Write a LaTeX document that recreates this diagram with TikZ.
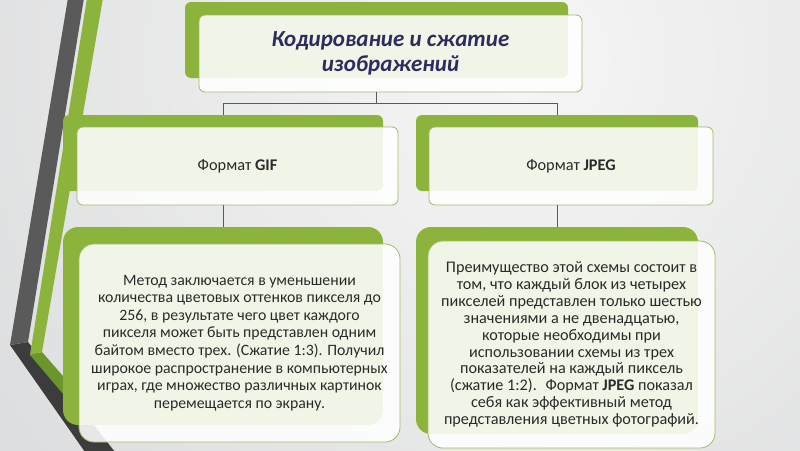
\documentclass[tikz,border=0pt]{standalone}
\usepackage{fontspec}
\setmainfont{Carlito}
\definecolor{bgbase}{HTML}{C4C6C8}
\definecolor{bgtop}{HTML}{F6F6F6}
\definecolor{boxgreen}{HTML}{8CB43C}
\definecolor{edgegreen}{HTML}{9DBE63}
\definecolor{darkbar}{HTML}{5A5A5A}
\definecolor{darkbarlow}{HTML}{3C3C3C}
\definecolor{greenlow}{HTML}{6A962C}
\definecolor{titlecol}{HTML}{2C2C5E}
\definecolor{textcol}{HTML}{2A2A2A}
\definecolor{linecol}{HTML}{5A5A5A}
\begin{document}
\begin{tikzpicture}[x=1pt,y=-1pt,
  grn/.style={fill=boxgreen, draw=none, rounded corners=#1, inner sep=0pt},
  wbox/.style={fill=white, fill opacity=0.88, text opacity=1, draw=edgegreen, line width=0.8pt,
               rounded corners=#1, inner sep=0pt, align=center, text=textcol},
  conn/.style={draw=linecol, line width=0.7pt},
  headtext/.style={font=\fontsize{16.3}{19}\selectfont}]
\useasboundingbox (0,0) rectangle (800,450);
% background
\fill[bgbase] (0,0) rectangle (800,450);
\begin{scope}
  \clip (0,0) rectangle (800,450);
  \shade[inner color=bgtop, outer color=bgbase] (520,60) circle[radius=1250pt];
\end{scope}
% left decoration
\fill[darkbarlow] (10,345) -- (85,452) -- (115,452) -- (28,342) -- cycle;
\fill[darkbar] (68,-2) -- (84,-2) -- (28,342) -- (10,345) -- cycle;
\fill[greenlow] (30,355) -- (42,352) -- (70,384) -- (70,402) -- cycle;
\fill[boxgreen] (87,-2) -- (103,-2) -- (42,352) -- (30,355) -- cycle;

% top box
\node[grn=6pt, minimum width=383pt, minimum height=76pt] (topg) at (376.5,40) {};
\node[wbox=6pt, minimum width=383pt, minimum height=77pt, text=titlecol,
      font=\fontsize{23}{25}\selectfont\bfseries\itshape] (top) at (390.5,53.5)
      {Кодирование и сжатие\\изображений};
% second level
\node[grn=6pt, minimum width=320pt, minimum height=76pt] (gifg) at (223,153) {};
\node[wbox=6pt, minimum width=321pt, minimum height=78pt, headtext] (gif) at (237.5,166)
      {Формат \textbf{GIF}};
\node[grn=6pt, minimum width=282pt, minimum height=76pt] (jpgg) at (557,153) {};
\node[wbox=6pt, minimum width=284pt, minimum height=78pt, headtext] (jpg) at (571,166)
      {Формат \textbf{JPEG}};
% third level
\node[grn=15pt, minimum width=320pt, minimum height=198pt] (gbodyg) at (223,326) {};
\node[wbox=15pt, minimum width=321pt, minimum height=198pt,
      font=\fontsize{15.8}{17.6}\selectfont] (gbody) at (239.5,343)
      {\addfontfeatures{Numbers=OldStyle}%
       Метод заключается в уменьшении\\
       количества цветовых оттенков пикселя до\\
       256, в результате чего цвет каждого\\
       пикселя может быть представлен одним\\
       байтом вместо трех. (Сжатие 1:3). Получил\\
       широкое распространение в компьютерных\\
       играх, где множество различных картинок\\
       перемещается по экрану.};
\node[grn=15pt, minimum width=282pt, minimum height=207pt] (jbodyg) at (557,330.5) {};
\node[wbox=15pt, minimum width=287pt, minimum height=207pt,
      font=\fontsize{16.2}{16.9}\selectfont] (jbody) at (571.5,344.5)
      {Преимущество этой схемы состоит в\\
       том, что каждый блок из четырех\\
       пикселей представлен только шестью\\
       значениями а не двенадцатью,\\
       которые необходимы при\\
       использовании схемы из трех\\
       показателей на каждый пиксель\\
       (сжатие 1:2).~ Формат \textbf{JPEG} показал\\
       себя как эффективный метод\\
       представления цветных фотографий.};
% connectors
\draw[conn] (topg.center |- top.south) -- ++(0,11) coordinate (split);
\draw[conn] (split) -| (gifg.north);
\draw[conn] (split) -| (jpgg.north);
\draw[conn] (gifg.center |- gif.south) -- (gbodyg.north);
\draw[conn] (jpgg.center |- jpg.south) -- (jbodyg.north);
\end{tikzpicture}
\end{document}
